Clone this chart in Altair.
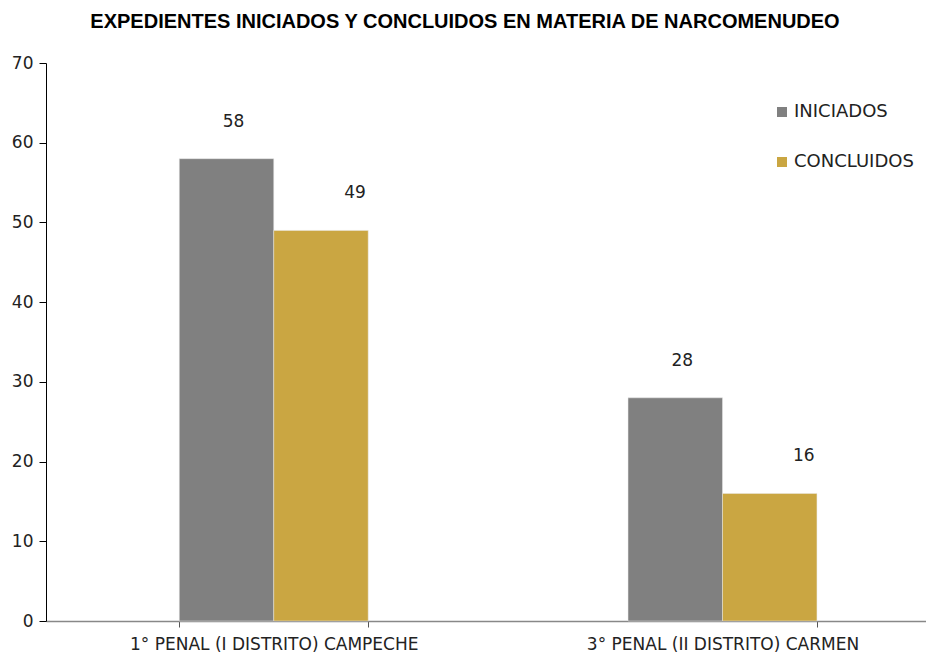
import altair as alt
import pandas as pd

categories = ["1° PENAL (I DISTRITO) CAMPECHE", "3° PENAL (II DISTRITO) CARMEN"]
series = ["INICIADOS", "CONCLUIDOS"]
iniciados = [58, 28]
concluidos = [49, 16]
colors = ["#808080", "#CAA642"]
y_ticks = [0, 10, 20, 30, 40, 50, 60, 70]

rows = []
for i, c in enumerate(categories):
    rows.append({"cat": c, "serie": series[0], "val": iniciados[i]})
    rows.append({"cat": c, "serie": series[1], "val": concluidos[i]})
df = pd.DataFrame(rows)

FONT = "DejaVu Sans"

xscale = alt.Scale(paddingInner=0.579, paddingOuter=0.27, align=0.55)
x = alt.X("cat:N", sort=categories, title=None, scale=xscale,
          axis=alt.Axis(labelAngle=0, labelFont=FONT, labelFontSize=17, labelColor="#222",
                        labelLimit=0, domainColor="#888", tickColor="#555", tickSize=6,
                        tickBand="extent", labelPadding=9, domainWidth=1.5))
xo = alt.XOffset("serie:N", sort=series)
y = alt.Y("val:Q", title=None,
          scale=alt.Scale(domain=[0, 70], nice=False),
          axis=alt.Axis(values=y_ticks, grid=False, labelFont=FONT, labelFontSize=17,
                        labelColor="#222", domainColor="#000", tickColor="#000",
                        tickSize=7, labelPadding=6))

base = alt.Chart(df)
bars = base.mark_bar(stroke="#e8e8e8", strokeWidth=0.5).encode(
    x=x, xOffset=xo, y=y,
    color=alt.Color("serie:N", sort=series,
                    scale=alt.Scale(domain=series, range=colors),
                    legend=alt.Legend(title=None, orient="none", legendX=727, legendY=40,
                                      symbolType="square", symbolSize=100,
                                      labelFont=FONT, labelFontSize=18, labelColor="#222",
                                      labelOffset=3, rowPadding=32, symbolStrokeWidth=0))
)
lab_ini = base.transform_filter(alt.datum.serie == series[0]).mark_text(
    baseline="bottom", dy=-28, dx=7, font=FONT, fontSize=17, color="#222").encode(
    x=alt.X("cat:N", sort=categories, scale=xscale), xOffset=xo, y="val:Q", text="val:Q"
)
lab_con = base.transform_filter(alt.datum.serie == series[1]).mark_text(
    baseline="bottom", dy=-28, dx=34, font=FONT, fontSize=17, color="#222").encode(
    x=alt.X("cat:N", sort=categories, scale=xscale), xOffset=xo, y="val:Q", text="val:Q"
)

chart = (bars + lab_ini + lab_con).properties(
    width=880, height=558,
    padding={"left": 38, "top": 55, "right": 0, "bottom": 33},
    autosize=alt.AutoSizeParams(type="none"),
    title=alt.TitleParams("EXPEDIENTES INICIADOS Y CONCLUIDOS EN MATERIA DE NARCOMENUDEO",
                          font="Liberation Sans", fontSize=20, fontWeight="bold", color="#000",
                          anchor="middle", dx=-21, offset=22),
).configure_view(stroke=None)

chart.save("out.html", embed_options={"renderer": "svg", "actions": False})
